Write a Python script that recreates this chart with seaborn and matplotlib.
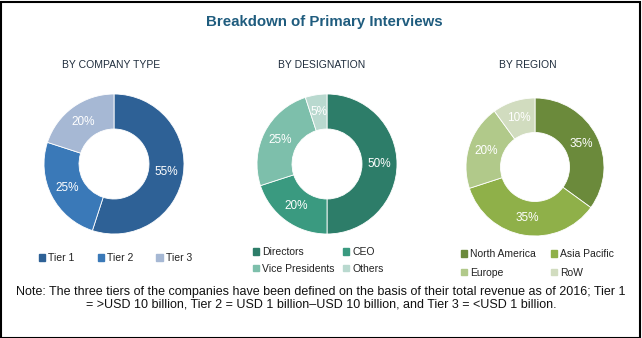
import matplotlib
matplotlib.use("Agg")
import matplotlib.pyplot as plt
import seaborn as sns
import numpy as np
from matplotlib.patches import Rectangle

sns.set_theme(style="white")
plt.rcParams['font.family'] = ['Liberation Sans', 'DejaVu Sans']

# ---------------- data ----------------
company_labels = ["Tier 1", "Tier 2", "Tier 3"]
company_values = [55, 25, 20]
company_colors = ["#2e6196", "#3a79b8", "#a6b8d4"]

designation_labels = ["Directors", "CEO", "Vice Presidents", "Others"]
designation_values = [50, 20, 25, 5]
designation_colors = ["#2d7d69", "#3a9a80", "#7dbfab", "#b9d9cf"]

region_labels = ["North America", "Asia Pacific", "Europe", "RoW"]
region_values = [35, 35, 20, 10]
region_colors = ["#6b8a3b", "#8fb049", "#b1c98a", "#d1dcbf"]

title = "Breakdown of Primary Interviews"
subtitles = ["BY COMPANY TYPE", "BY DESIGNATION", "BY REGION"]
note = ("Note: The three tiers of the companies have been defined on the basis of their total revenue as of 2016; Tier 1\n"
        "= >USD 10 billion, Tier 2 = USD 1 billion\u2013USD 10 billion, and Tier 3 = <USD 1 billion.")

W, H = 642, 338
fig = plt.figure(figsize=(W / 100, H / 100), dpi=100)
fig.patch.set_facecolor("white")


def px_axes(cx, cy, r):
    return fig.add_axes([(cx - r) / W, (H - cy - r) / H, 2 * r / W, 2 * r / H])


def row_major(items, ncol):
    # matplotlib fills legends column-wise; reorder so rows read left-to-right
    nrow = int(np.ceil(len(items) / ncol))
    return [items[r * ncol + c] for c in range(ncol) for r in range(nrow) if r * ncol + c < len(items)]


charts = [
    dict(cx=114, cy=164, r=70, labels=company_labels, values=company_values, colors=company_colors,
         sub=subtitles[0], sx=111, ncol=3, lx=39, ly=258, colsp=2.2, lsp=0.5),
    dict(cx=327, cy=164, r=70, labels=designation_labels, values=designation_values, colors=designation_colors,
         sub=subtitles[1], sx=322, ncol=2, lx=253, ly=260.5, colsp=0.75, lsp=0.63),
    dict(cx=535, cy=167, r=69, labels=region_labels, values=region_values, colors=region_colors,
         sub=subtitles[2], sx=528, ncol=2, lx=461, ly=263.5, colsp=1.4, lsp=0.83),
]

for ch in charts:
    ax = px_axes(ch["cx"], ch["cy"], ch["r"])
    wedges, _ = ax.pie(ch["values"], colors=ch["colors"], startangle=90, counterclock=False,
                       radius=1.0, wedgeprops=dict(width=0.5, edgecolor="white", linewidth=0.6))
    for w, v in zip(wedges, ch["values"]):
        ang = np.deg2rad((w.theta1 + w.theta2) / 2)
        ax.text(0.75 * np.cos(ang), 0.75 * np.sin(ang), f"{v}%", ha="center", va="center",
                color="white", fontsize=8.5)
    ax.set_xlim(-1, 1)
    ax.set_ylim(-1, 1)
    ax.set_aspect("equal")
    ax.axis("off")
    fig.text(ch["sx"] / W, 1 - 65 / H, ch["sub"], ha="center", va="center", fontsize=7.5,
             color="#1f2d3d", family=['DejaVu Sans Condensed', 'Liberation Sans', 'DejaVu Sans'])
    handles = [Rectangle((0, 0), 1, 1, color=c) for c in ch["colors"]]
    fig.legend(row_major(handles, ch["ncol"]), row_major(ch["labels"], ch["ncol"]),
               loc="center left", ncol=ch["ncol"],
               bbox_to_anchor=(ch["lx"] / W, 1 - ch["ly"] / H),
               frameon=False, fontsize=7.5, handlelength=0.6, handleheight=0.6,
               handletextpad=0.3, columnspacing=ch["colsp"], labelspacing=ch["lsp"],
               borderpad=0, borderaxespad=0, labelcolor="#222222")

fig.text(324 / W, 1 - 22 / H, title, ha="center", va="center", fontsize=10.8,
         fontweight="bold", color="#1f5c7e")
fig.text(321 / W, 1 - 298 / H, note, ha="center", va="center", fontsize=9,
         color="#111111", linespacing=1.1)

fig.add_artist(Rectangle((0.5 / W, 0.5 / H), (W - 2.5) / W, (H - 2) / H, transform=fig.transFigure,
                         fill=False, edgecolor="black", linewidth=1.5))

fig.savefig("out.png", dpi=100)
